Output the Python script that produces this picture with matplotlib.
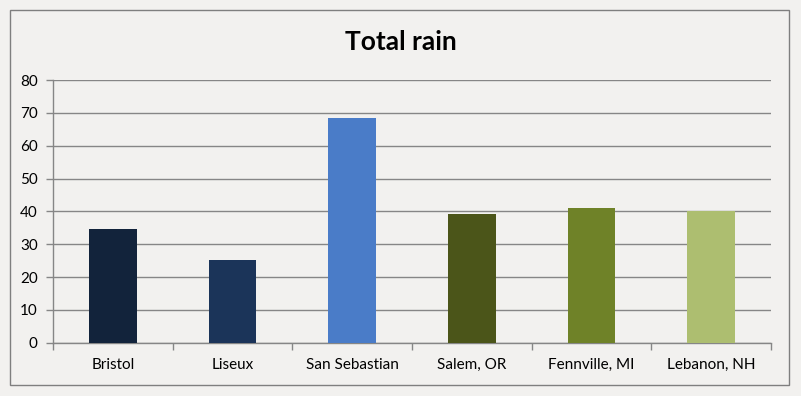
import matplotlib.pyplot as plt
from matplotlib.patches import Rectangle
import numpy as np

# Data
cities = ['Bristol', 'Liseux', 'San Sebastian', 'Salem, OR', 'Fennville, MI', 'Lebanon, NH']
rain = [34.6, 25.2, 68.4, 39.2, 41.0, 40.1]
colors = ['#12233b', '#1b3459', '#4a7cc8', '#4b5519', '#6f8228', '#adbe70']

plt.rcParams['font.family'] = ['Lato', 'DejaVu Sans']

bg = '#f2f1ef'
grid_col = '#868686'

fig = plt.figure(figsize=(8.01, 3.96), dpi=100, facecolor=bg)
W, H = 801, 396

# Outer chart border
fig.patches.append(Rectangle((10 / W, 1 - 385 / H), 779 / W, 375 / H,
                             transform=fig.transFigure, fill=False,
                             edgecolor='#7f7f7f', linewidth=1.0))

ax = fig.add_axes([53 / W, 1 - 342.7 / H, 718 / W, 262.7 / H])
ax.set_facecolor(bg)

x = np.arange(len(cities))
ax.bar(x, rain, width=0.4, color=colors, zorder=3)

ax.set_xlim(-0.5, len(cities) - 0.5)
ax.set_ylim(0, 80)
ax.set_yticks(range(0, 81, 10))
ax.yaxis.grid(True, color=grid_col, linewidth=1.0, zorder=0)

# Category labels centred, ticks between categories
ax.set_xticks(x)
ax.set_xticklabels(cities, fontsize=11)
ax.tick_params(axis='x', length=0, pad=11)
ax.set_xticks(np.arange(-0.5, len(cities)), minor=True)
ax.tick_params(axis='x', which='minor', length=5, color=grid_col, width=1.0)
ax.tick_params(axis='y', length=5, color=grid_col, width=1.0, labelsize=11, pad=6)

for s in ['top', 'right']:
    ax.spines[s].set_visible(False)
for s in ['left', 'bottom']:
    ax.spines[s].set_color(grid_col)
    ax.spines[s].set_linewidth(1.0)

fig.text(0.5, 1 - 42 / H, 'Total rain', ha='center', va='center',
         fontsize=19, fontweight='bold')

fig.savefig('out.png', dpi=100, facecolor=bg)
